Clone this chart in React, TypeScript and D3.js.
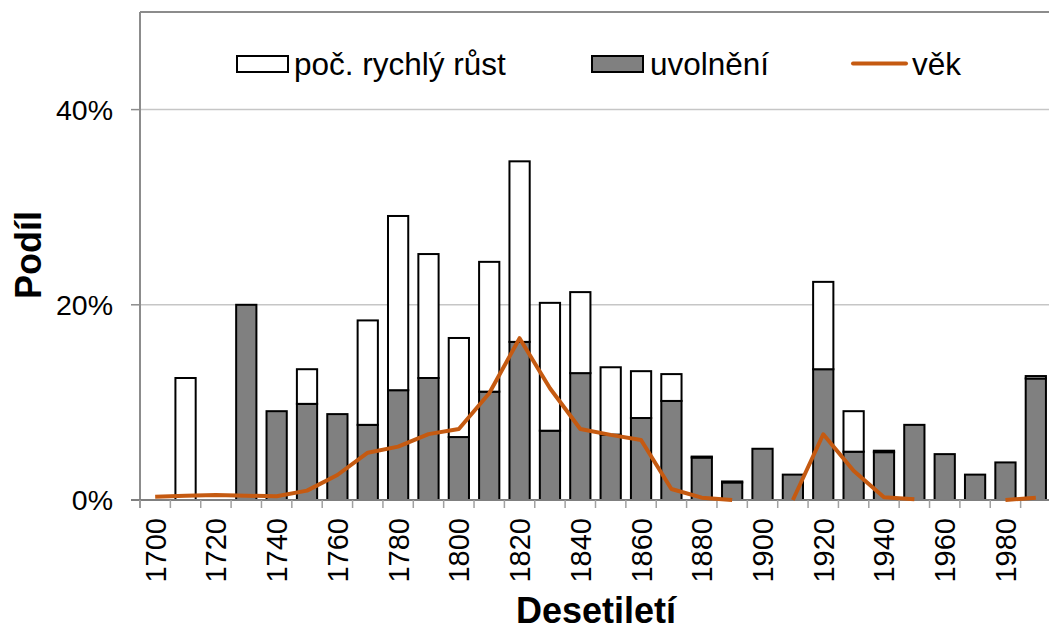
import React from "react";
import * as d3 from "d3";

const decades = [
  1700, 1710, 1720, 1730, 1740, 1750, 1760, 1770, 1780, 1790,
  1800, 1810, 1820, 1830, 1840, 1850, 1860, 1870, 1880, 1890,
  1900, 1910, 1920, 1930, 1940, 1950, 1960, 1970, 1980, 1990,
];

// uvolnění (gray, bottom of stack), %
const uvolneni = [
  0, 0, 0, 20.0, 9.1, 9.85, 8.8, 7.7, 11.25, 12.5,
  6.45, 11.1, 16.2, 7.1, 13.0, 6.7, 8.4, 10.15, 4.35, 1.8,
  5.25, 2.6, 13.4, 4.95, 4.9, 7.7, 4.7, 2.6, 3.85, 12.45,
];

// poč. rychlý růst (white, stacked on top), %
const rychlyRust = [
  0, 12.5, 0, 0, 0, 3.55, 0, 10.7, 17.85, 12.7,
  10.15, 13.3, 18.5, 13.1, 8.3, 6.9, 4.8, 2.75, 0.1, 0.1,
  0, 0, 8.95, 4.15, 0.15, 0, 0, 0, 0, 0.25,
];

// věk (line), % — null = no value
const vek: (number | null)[] = [
  0.34, 0.44, 0.5, 0.44, 0.38, 0.96, 2.56, 4.85, 5.47, 6.75,
  7.28, 10.94, 16.58, 11.45, 7.28, 6.67, 6.15, 1.13, 0.24, 0,
  null, 0, 6.74, 3.0, 0.27, 0.07, null, null, 0, 0.24,
];

const yTicks = [0, 20, 40];
const xLabels = decades.filter((_, i) => i % 2 === 0);

const W = 1049;
const H = 630;
const left = 140;
const right = 1051;
const top = 12;
const bottom = 500;

const ORANGE = "#C55A11";
const FONT = "'Liberation Sans', Arial, sans-serif";

export default function App() {
  const x = d3
    .scaleBand<number>()
    .domain(decades)
    .range([left, right])
    .paddingInner(1 / 3)
    .paddingOuter(1 / 6);
  const step = x.step();
  const y = d3.scaleLinear().domain([0, 50]).range([bottom, top]);
  const cx = (d: number) => (x(d) ?? 0) + x.bandwidth() / 2;

  const line = d3
    .line<number | null>()
    .defined((d) => d !== null)
    .x((_, i) => cx(decades[i]))
    .y((d) => y(d as number));

  return (
    <svg
      width={W}
      height={H}
      style={{ position: "absolute", left: 0, top: 0, background: "#fff" }}
      fontFamily={FONT}
    >
      {/* gridlines */}
      {yTicks
        .filter((t) => t > 0)
        .map((t) => (
          <line key={t} x1={left} x2={right} y1={y(t)} y2={y(t)} stroke="#C6C6C6" strokeWidth={1.5} />
        ))}
      {/* top border */}
      <line x1={left} x2={right} y1={top} y2={top} stroke="#8C8C8C" strokeWidth={2} />

      {/* bars */}
      {decades.map((d, i) => {
        const g = uvolneni[i];
        const w = rychlyRust[i];
        const bx = x(d) ?? 0;
        const bw = x.bandwidth();
        return (
          <g key={d} stroke="#000" strokeWidth={2}>
            {g > 0 && <rect x={bx} width={bw} y={y(g)} height={y(0) - y(g)} fill="#808080" />}
            {w > 0 && <rect x={bx} width={bw} y={y(g + w)} height={y(g) - y(g + w)} fill="#fff" />}
          </g>
        );
      })}

      {/* axes */}
      <line x1={left} x2={left} y1={top} y2={bottom + 8} stroke="#8C8C8C" strokeWidth={2} />
      {yTicks.map((t) => (
        <g key={t}>
          <line x1={left - 9} x2={left} y1={y(t)} y2={y(t)} stroke="#8C8C8C" strokeWidth={1.5} />
          <text x={113} y={y(t)} dy="0.36em" textAnchor="end" fontSize={28.5} fill="#000">
            {t}%
          </text>
        </g>
      ))}
      <line x1={left - 9} x2={right} y1={bottom} y2={bottom} stroke="#7F7F7F" strokeWidth={2} />
      {d3.range(decades.length + 1).map((i) => (
        <line
          key={i}
          x1={left + i * step}
          x2={left + i * step}
          y1={bottom}
          y2={bottom + 8}
          stroke="#A0A0A0"
          strokeWidth={1.5}
        />
      ))}
      {xLabels.map((d) => (
        <text
          key={d}
          transform={`translate(${cx(d)},518) rotate(-90)`}
          dy="0.36em"
          textAnchor="end"
          fontSize={29}
          fill="#000"
        >
          {d}
        </text>
      ))}

      {/* line */}
      <path d={line(vek) ?? ""} fill="none" stroke={ORANGE} strokeWidth={4} strokeLinejoin="round" />

      {/* titles */}
      <text transform="translate(28,255) rotate(-90)" dy="0.36em" textAnchor="middle" fontSize={36} fontWeight="bold">
        Podíl
      </text>
      <text x={596} y={623} textAnchor="middle" fontSize={36} fontWeight="bold">
        Desetiletí
      </text>

      {/* legend */}
      <g fontSize={31.5}>
        <rect x={237} y={56} width={51} height={16} fill="#fff" stroke="#000" strokeWidth={2} />
        <text x={294} y={75}>poč. rychlý růst</text>
        <rect x={592} y={56} width={51} height={16} fill="#808080" stroke="#000" strokeWidth={2} />
        <text x={650} y={75}>uvolnění</text>
        <line x1={853} x2={906} y1={63.5} y2={63.5} stroke={ORANGE} strokeWidth={4} strokeLinecap="round" />
        <text x={912} y={75}>věk</text>
      </g>
    </svg>
  );
}
